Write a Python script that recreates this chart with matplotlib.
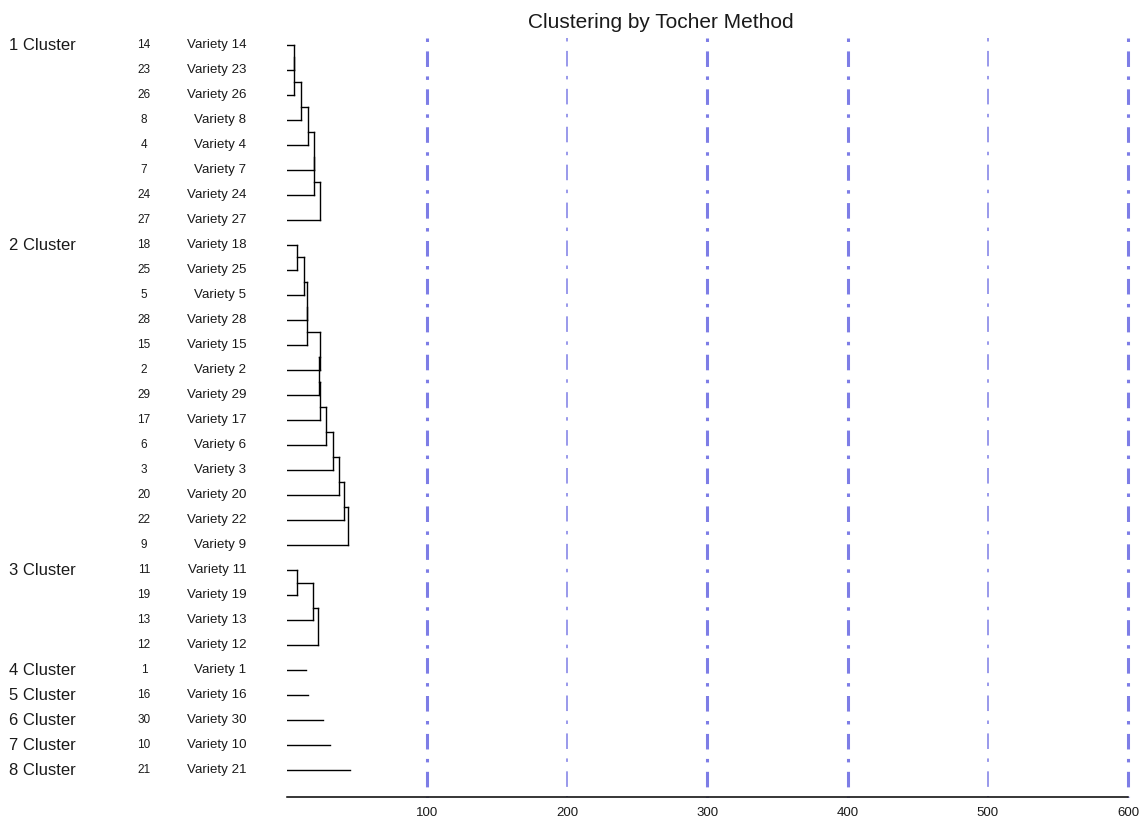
import matplotlib
matplotlib.use('Agg')
import matplotlib.pyplot as plt

plt.rcParams['font.family'] = ['Liberation Sans', 'DejaVu Sans']
plt.rcParams['lines.scale_dashes'] = False

# varieties in each Tocher cluster, in plotting order
clusters = [
    [14, 23, 26, 8, 4, 7, 24, 27],
    [18, 25, 5, 28, 15, 2, 29, 17, 6, 3, 20, 22, 9],
    [11, 19, 13, 12],
    [1],
    [16],
    [30],
    [10],
    [21],
]
# height at which each member joins its cluster (members 2..n)
join_heights = [
    [5.1, 5.1, 9.9, 15.3, 19.4, 19.4, 23.7],
    [7.6, 12.4, 14.7, 14.7, 23.5, 23.0, 23.6, 27.8, 32.6, 37.3, 40.9, 43.3],
    [7.6, 18.8, 22.6],
]
# line length for the single-variety clusters
single_lengths = [13.6, 15.2, 25.9, 30.9, 45.2]

ref_lines = [100, 200, 300, 400, 500, 600]
ref_widths = [2.2, 1.1, 2.2, 2.2, 1.1, 2.2]
xticks = [100, 200, 300, 400, 500, 600]

W, H = 1147, 821
fig = plt.figure(figsize=(W / 100, H / 100), dpi=100)
ax = fig.add_axes([286.8 / W, (H - 797) / H, 841.2 / W, (797 - 38) / H])
n_rows = sum(len(c) for c in clusters)
ax.set_xlim(0, 600)
ax.set_ylim(n_rows + 0.08, -0.28)

lc = 'black'
tc = '#1a1a1a'
lw = 1.0
row = 0
singles = iter(single_lengths)
for ci, members in enumerate(clusters):
    rows = list(range(row, row + len(members)))
    ax.text(-198, rows[0], '%d Cluster' % (ci + 1), fontsize=12, color=tc,
            ha='left', va='center', clip_on=False)
    for m, r in zip(members, rows):
        ax.text(-101.8, r, str(m), fontsize=8.5, color=tc, ha='center', va='center', clip_on=False)
        ax.text(-29.0, r, 'Variety %d' % m, fontsize=9.6, color=tc, ha='right', va='center', clip_on=False)
    if len(members) == 1:
        ax.plot([0, next(singles)], [rows[0], rows[0]], color=lc, lw=lw)
    else:
        h = join_heights[ci]
        ax.plot([0, h[0]], [rows[0], rows[0]], color=lc, lw=lw)
        for k in range(1, len(members)):
            hk = h[k - 1]
            if k == 1:
                top = rows[0]
            else:
                top = (rows[k - 2] + rows[k - 1]) / 2
                ax.plot([h[k - 2], hk], [top, top], color=lc, lw=lw)
            ax.plot([hk, hk], [top, rows[k]], color=lc, lw=lw)
            ax.plot([0, hk], [rows[k], rows[k]], color=lc, lw=lw)
    row += len(members)

for x, w in zip(ref_lines, ref_widths):
    ax.plot([x, x], [-0.28, n_rows + 0.08], color='#7d7de6', lw=w,
            dashes=(2.5, 6.8, 11.2, 6.8), clip_on=False)

for s in ['top', 'right', 'left']:
    ax.spines[s].set_visible(False)
ax.spines['bottom'].set_linewidth(1.1)
ax.set_yticks([])
ax.set_xticks(xticks)
ax.tick_params(axis='x', length=0, pad=7.5, labelsize=9.5, labelcolor=tc)

fig.text(661 / W, 1 - 22 / H, 'Clustering by Tocher Method', fontsize=15,
         color=tc, ha='center', va='center')

fig.savefig('out.png', dpi=100)
